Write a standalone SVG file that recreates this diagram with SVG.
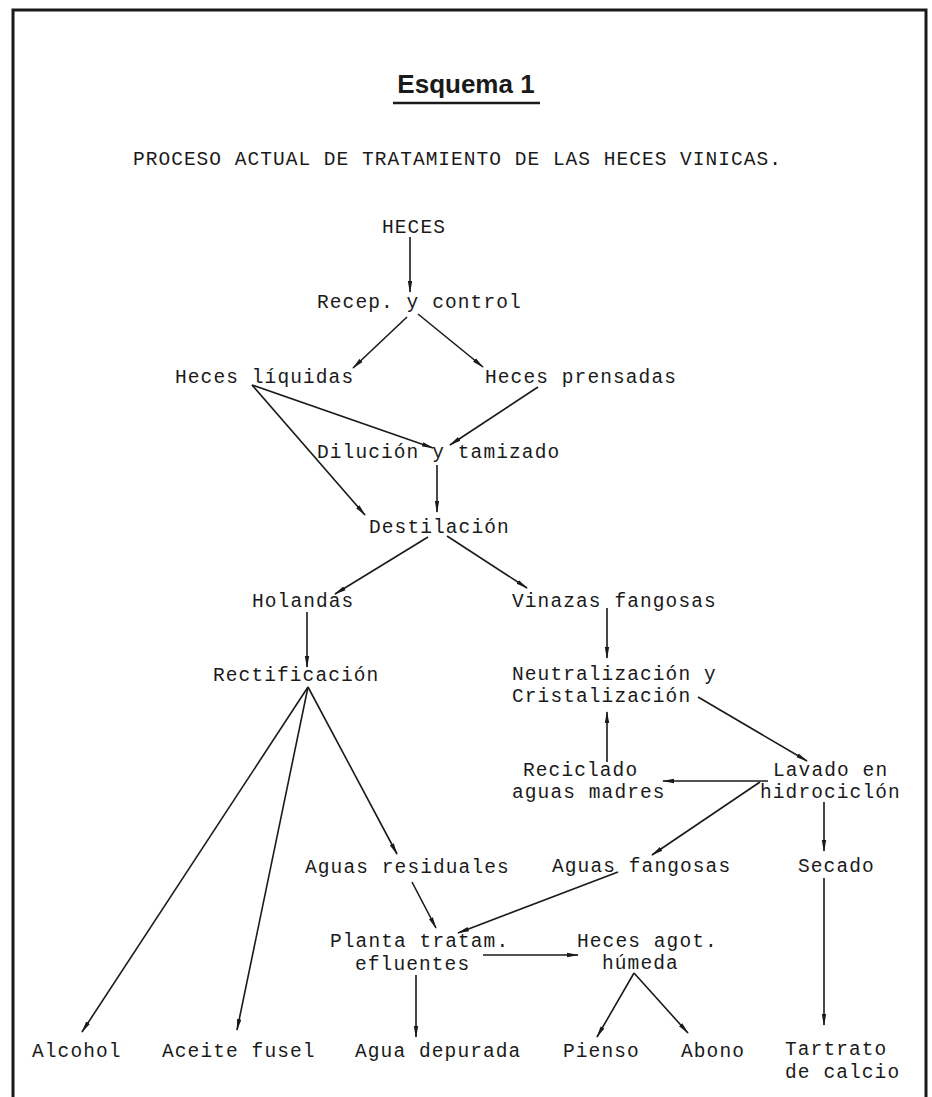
<svg xmlns="http://www.w3.org/2000/svg" width="932" height="1097" viewBox="0 0 932 1097">
<style>
.t{font-family:"Liberation Mono","DejaVu Sans Mono",monospace;font-size:19.5px;letter-spacing:1.1px;fill:#1a1a1a}
.c line{stroke:#1a1a1a;stroke-width:1.6;fill:none}
.a{marker-end:url(#ah)}
.f{stroke:#1a1a1a;stroke-width:3;fill:none}
</style>
<defs>
<marker id="ah" viewBox="0 0 12 6" refX="11" refY="3" markerWidth="12" markerHeight="6" markerUnits="userSpaceOnUse" orient="auto">
<path d="M0,0.8 L12,3 L0,5.2 z" fill="#1a1a1a"/>
</marker>
</defs>
<rect width="932" height="1097" fill="#fff"/>
<g id="frame">
<path class="f" d="M13,1097 V10 H926 V1097"/>
</g>
<g id="title">
<text x="466" y="93" text-anchor="middle" style="font-family:'Liberation Sans',Arial,sans-serif;font-weight:bold;font-size:26px;fill:#1a1a1a">Esquema 1</text>
<line x1="393" y1="103" x2="540" y2="103" stroke="#1a1a1a" stroke-width="2.5"/>
<text class="t" x="133" y="165" textLength="649">PROCESO ACTUAL DE TRATAMIENTO DE LAS HECES VINICAS.</text>
</g>
<g id="n-heces"><text class="t" x="382" y="233">HECES</text></g>
<g id="n-recep"><text class="t" x="317" y="308">Recep. y control</text></g>
<g id="n-liquidas"><text class="t" x="175" y="383">Heces líquidas</text></g>
<g id="n-prensadas"><text class="t" x="485" y="383">Heces prensadas</text></g>
<g id="n-dilucion"><text class="t" x="317" y="458">Dilución y tamizado</text></g>
<g id="n-destilacion"><text class="t" x="369" y="533">Destilación</text></g>
<g id="n-holandas"><text class="t" x="252" y="607">Holandas</text></g>
<g id="n-vinazas"><text class="t" x="512" y="607">Vinazas fangosas</text></g>
<g id="n-rectificacion"><text class="t" x="213" y="681">Rectificación</text></g>
<g id="n-neutralizacion"><text class="t" x="512" y="680">Neutralización y</text><text class="t" x="512" y="702">Cristalización</text></g>
<g id="n-reciclado"><text class="t" x="523" y="776">Reciclado</text><text class="t" x="512" y="798">aguas madres</text></g>
<g id="n-lavado"><text class="t" x="773" y="776">Lavado en</text><text class="t" x="760" y="798">hidrociclón</text></g>
<g id="n-residuales"><text class="t" x="305" y="873">Aguas residuales</text></g>
<g id="n-fangosas"><text class="t" x="552" y="872">Aguas fangosas</text></g>
<g id="n-secado"><text class="t" x="798" y="872">Secado</text></g>
<g id="n-planta"><text class="t" x="330" y="947">Planta tratam.</text><text class="t" x="355" y="970">efluentes</text></g>
<g id="n-agotada"><text class="t" x="577" y="947">Heces agot.</text><text class="t" x="602" y="969">húmeda</text></g>
<g id="n-alcohol"><text class="t" x="32" y="1057">Alcohol</text></g>
<g id="n-fusel"><text class="t" x="162" y="1057">Aceite fusel</text></g>
<g id="n-depurada"><text class="t" x="355" y="1057">Agua depurada</text></g>
<g id="n-pienso"><text class="t" x="563" y="1057">Pienso</text></g>
<g id="n-abono"><text class="t" x="681" y="1057">Abono</text></g>
<g id="n-tartrato"><text class="t" x="785" y="1055">Tartrato</text><text class="t" x="785" y="1078">de calcio</text></g>
<g id="connectors" class="c">
<line class="a" x1="410" y1="237" x2="410" y2="292"/>
<line class="a" x1="407" y1="317" x2="353" y2="368"/>
<line class="a" x1="418" y1="314" x2="483" y2="367"/>
<line class="a" x1="252" y1="385" x2="433" y2="448"/>
<line class="a" x1="252" y1="385" x2="365" y2="515"/>
<line class="a" x1="538" y1="387" x2="450" y2="445"/>
<line class="a" x1="437" y1="465" x2="437" y2="512"/>
<line class="a" x1="428" y1="537" x2="335" y2="594"/>
<line class="a" x1="447" y1="536" x2="527" y2="588"/>
<line class="a" x1="307" y1="612" x2="307" y2="667"/>
<line class="a" x1="607" y1="608" x2="607" y2="658"/>
<line class="a" x1="308" y1="687" x2="82" y2="1032"/>
<line class="a" x1="308" y1="687" x2="237" y2="1030"/>
<line class="a" x1="308" y1="687" x2="397" y2="854"/>
<line class="a" x1="698" y1="697" x2="807" y2="761"/>
<line class="a" x1="607" y1="762" x2="607" y2="712"/>
<line class="a" x1="768" y1="781" x2="663" y2="781"/>
<line class="a" x1="760" y1="782" x2="652" y2="855"/>
<line class="a" x1="824" y1="802" x2="824" y2="851"/>
<line class="a" x1="412" y1="882" x2="436" y2="928"/>
<line class="a" x1="618" y1="872" x2="458" y2="933"/>
<line class="a" x1="483" y1="955" x2="578" y2="955"/>
<line class="a" x1="416" y1="975" x2="416" y2="1037"/>
<line class="a" x1="634" y1="973" x2="597" y2="1037"/>
<line class="a" x1="634" y1="973" x2="688" y2="1033"/>
<line class="a" x1="824" y1="878" x2="824" y2="1025"/>
</g>
</svg>
